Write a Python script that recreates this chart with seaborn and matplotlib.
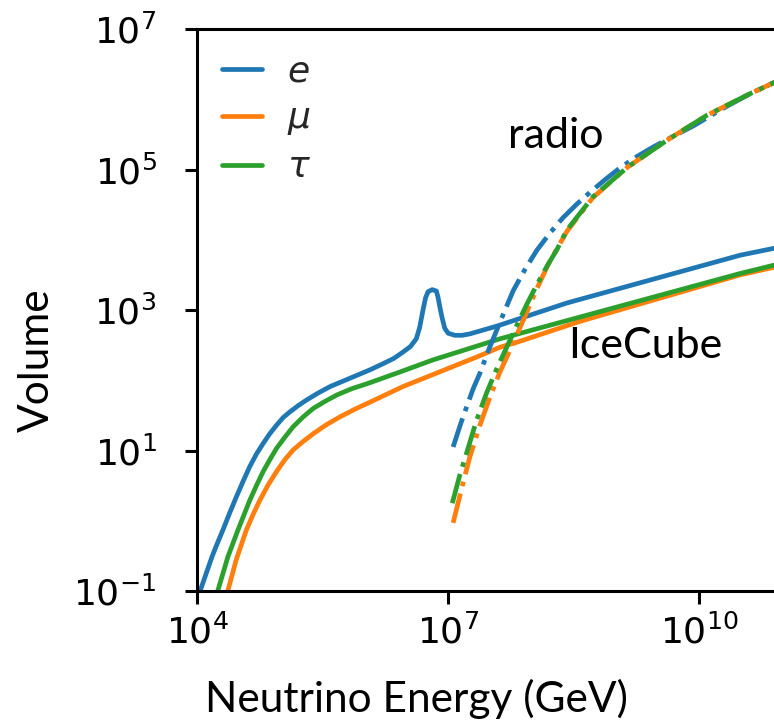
import numpy as np
import pandas as pd
import matplotlib
matplotlib.use("Agg")
import matplotlib.pyplot as plt
import matplotlib.ticker as mticker
import seaborn as sns

# ---- data (log10 values) ----
# IceCube (solid)
e_ice_logE = [3.99, 4.04, 4.11, 4.18, 4.24, 4.31, 4.39, 4.47, 4.55, 4.63, 4.71, 4.79, 4.87, 4.95,
              5.03, 5.11, 5.21, 5.31, 5.45, 5.59, 5.75, 5.91, 6.07, 6.23, 6.35, 6.46, 6.55, 6.62,
              6.66, 6.70, 6.73, 6.76, 6.81, 6.86, 6.88, 6.90, 6.93, 6.96, 7.00, 7.08, 7.17, 7.26,
              7.58, 8.42, 10.49, 10.90, 11.2]
e_ice_logV = [-1.15, -0.99, -0.75, -0.51, -0.33, -0.13, 0.11, 0.34, 0.56, 0.77, 0.95, 1.10, 1.24, 1.36,
              1.47, 1.55, 1.64, 1.72, 1.82, 1.91, 1.99, 2.07, 2.15, 2.24, 2.31, 2.40, 2.48, 2.59,
              2.75, 3.00, 3.17, 3.26, 3.29, 3.27, 3.18, 3.05, 2.88, 2.74, 2.67, 2.64, 2.64, 2.66,
              2.77, 3.10, 3.78, 3.88, 3.98]

mu_ice_logE = [4.33, 4.37, 4.47, 4.59, 4.67, 4.75, 4.85, 4.95, 5.05, 5.15, 5.27, 5.39, 5.55, 5.71,
               5.89, 6.07, 6.46, 6.90, 7.34, 7.62, 7.82, 8.58, 10.49, 10.90, 11.2]
mu_ice_logV = [-1.15, -0.99, -0.55, -0.13, 0.09, 0.29, 0.51, 0.70, 0.87, 1.01, 1.13, 1.24, 1.37, 1.48,
               1.59, 1.69, 1.91, 2.12, 2.33, 2.47, 2.54, 2.84, 3.50, 3.61, 3.70]

tau_ice_logE = [4.21, 4.25, 4.37, 4.49, 4.63, 4.71, 4.79, 4.87, 4.95, 5.05, 5.15, 5.27, 5.39, 5.53,
                5.67, 5.85, 6.03, 6.43, 6.82, 7.22, 7.62, 10.49, 10.90, 11.2]
tau_ice_logV = [-1.15, -0.99, -0.51, -0.13, 0.29, 0.50, 0.70, 0.87, 1.03, 1.19, 1.34, 1.48, 1.60, 1.70,
                1.79, 1.88, 1.95, 2.12, 2.29, 2.44, 2.59, 3.52, 3.64, 3.73]

# radio (dash-dot)
e_radio_logE = [7.06, 7.15, 7.23, 7.30, 7.38, 7.48, 7.58, 7.68, 7.78, 7.92, 8.06, 8.22, 8.37, 8.54,
                8.70, 8.88, 9.05, 9.25, 9.45, 9.70, 9.93, 10.27, 10.61, 10.88, 11.2]
e_radio_logV = [1.05, 1.38, 1.65, 1.88, 2.10, 2.42, 2.71, 3.00, 3.28, 3.58, 3.85, 4.10, 4.31, 4.51,
                4.68, 4.86, 5.02, 5.18, 5.32, 5.48, 5.62, 5.86, 6.08, 6.23, 6.38]

mu_radio_logE = [7.06, 7.16, 7.26, 7.38, 7.50, 7.62, 7.74, 7.90, 8.06, 8.20, 8.42, 8.73, 9.14, 9.62,
                 10.09, 10.61, 10.88, 11.2]
mu_radio_logV = [-0.03, 0.45, 0.91, 1.36, 1.76, 2.12, 2.43, 2.86, 3.30, 3.66, 4.12, 4.60, 5.03, 5.42,
                 5.77, 6.08, 6.23, 6.38]

tau_radio_logE = [7.05, 7.14, 7.23, 7.34, 7.46, 7.58, 7.70, 7.82, 7.94, 8.06, 8.18, 8.30, 8.42, 8.73,
                  9.14, 9.62, 10.09, 10.61, 10.88, 11.2]
tau_radio_logV = [0.25, 0.65, 1.00, 1.43, 1.82, 2.16, 2.47, 2.78, 3.08, 3.36, 3.62, 3.86, 4.14, 4.61,
                  5.03, 5.42, 5.77, 6.08, 6.23, 6.38]

flavours = ["$e$", r"$\mu$", r"$\tau$"]
colors = ["#1f77b4", "#ff7f0e", "#2ca02c"]
x_ticks = [1e4, 1e7, 1e10]
y_ticks = [1e-1, 1e1, 1e3, 1e5, 1e7]

# ---- style ----
sns.set_style("ticks")
plt.rcParams["font.family"] = ["DejaVu Sans"]
plt.rcParams["mathtext.fontset"] = "dejavusans"

W, H, DPI = 774, 722, 100
fig = plt.figure(figsize=(W / DPI, H / DPI), dpi=DPI)
ax_left, ax_top, ax_bottom = 197, 29, 591
px_per_dec = 83.7
xmin_log, xmax_log = 4, 12
ax_w = (xmax_log - xmin_log) * px_per_dec
ax = fig.add_axes([ax_left / W, (H - ax_bottom) / H, ax_w / W, (ax_bottom - ax_top) / H])

ice = [(e_ice_logE, e_ice_logV), (mu_ice_logE, mu_ice_logV), (tau_ice_logE, tau_ice_logV)]
radio = [(e_radio_logE, e_radio_logV), (mu_radio_logE, mu_radio_logV), (tau_radio_logE, tau_radio_logV)]

lw = 3.4
for (lx, ly), c, lab in zip(ice, colors, flavours):
    df = pd.DataFrame({"E": 10 ** np.array(lx), "V": 10 ** np.array(ly)})
    sns.lineplot(data=df, x="E", y="V", color=c, lw=lw, ls="-", label=lab, ax=ax,
                 estimator=None, sort=False)
for (lx, ly), c in zip(radio, colors):
    df = pd.DataFrame({"E": 10 ** np.array(lx), "V": 10 ** np.array(ly)})
    sns.lineplot(data=df, x="E", y="V", color=c, lw=lw, ls="-.", ax=ax,
                 estimator=None, sort=False)

ax.set_xscale("log")
ax.set_yscale("log")
ax.set_xlim(10 ** xmin_log, 10 ** xmax_log)
ax.set_ylim(1e-1, 1e7)
ax.xaxis.set_major_locator(mticker.FixedLocator(x_ticks))
ax.yaxis.set_major_locator(mticker.FixedLocator(y_ticks))
ax.xaxis.set_minor_locator(mticker.NullLocator())
ax.yaxis.set_minor_locator(mticker.NullLocator())
ax.xaxis.set_major_formatter(mticker.LogFormatterSciNotation())
ax.yaxis.set_major_formatter(mticker.LogFormatterSciNotation())
ax.tick_params(axis="both", which="major", labelsize=26, length=9, width=2.2,
               color="black", labelcolor="black")
ax.tick_params(axis="x", pad=8)
ax.tick_params(axis="y", pad=20)
for s in ax.spines.values():
    s.set_linewidth(2.2)
    s.set_color("black")

lab_font = ["Lato", "DejaVu Sans"]
ax.set_xlabel("Neutrino Energy (GeV)", fontsize=30.5, family=lab_font, va="baseline", ha="center",
              color="black")
ax.xaxis.set_label_coords(416 / W, 1 - 712 / H, transform=fig.transFigure)
ax.set_ylabel("Volume", fontsize=30.5, family=lab_font, va="center", ha="center", color="black")
ax.yaxis.set_label_coords(37 / W, 1 - 360 / H, transform=fig.transFigure)

ax.text(10 ** 7.72, 10 ** 5.30, "radio", fontsize=31, family=lab_font, ha="left", va="baseline",
        color="black")
ax.text(10 ** 8.43, 10 ** 2.31, "IceCube", fontsize=31, family=lab_font, ha="left", va="baseline",
        color="black")

ax.legend(loc="upper left", frameon=False, fontsize=26, handlelength=1.1,
          handletextpad=0.7, labelspacing=0.36, borderaxespad=0.3)

fig.savefig("out.png", dpi=DPI)
